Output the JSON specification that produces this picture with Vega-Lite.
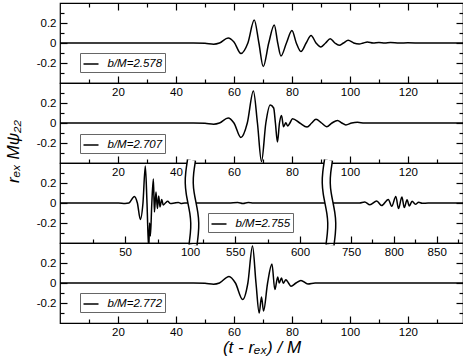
{
  "$schema": "https://vega.github.io/schema/vega-lite/v6.json",
  "background": "white",
  "padding": {"left": 3, "top": 1, "right": 0, "bottom": 0},
  "datasets": {
    "p1": [
      {"t":0,"v":0},{"t":20,"v":0},{"t":40,"v":0},{"t":46,"v":0},{"t":50,"v":-0.003},{"t":53,"v":-0.012},{"t":55,"v":0},{"t":58,"v":0.05},{"t":60,"v":0.01},{"t":62.4,"v":-0.105},{"t":64.8,"v":0},{"t":67,"v":0.23},{"t":68.6,"v":0},{"t":70.1,"v":-0.235},{"t":72,"v":0},{"t":73.9,"v":0.18},{"t":75.1,"v":0},{"t":76.2,"v":-0.13},{"t":78.1,"v":0},{"t":80,"v":0.125},{"t":81.5,"v":0},{"t":83.1,"v":-0.086},{"t":84.9,"v":0},{"t":86.6,"v":0.076},{"t":88.3,"v":0},{"t":90,"v":-0.04},{"t":91.6,"v":0},{"t":93.2,"v":0.043},{"t":94.8,"v":0},{"t":96.3,"v":-0.023},{"t":97.8,"v":0},{"t":99.4,"v":0.027},{"t":101.3,"v":0},{"t":103.2,"v":-0.01},{"t":104.6,"v":0},{"t":106,"v":0.01},{"t":108,"v":0},{"t":110,"v":0.006},{"t":112,"v":0},{"t":114,"v":0.004},{"t":117,"v":0},{"t":120,"v":0.002},{"t":125,"v":0},{"t":139,"v":0}
    ],
    "p2": [
      {"t":0,"v":0},{"t":20,"v":0},{"t":40,"v":0},{"t":46,"v":0},{"t":50,"v":-0.003},{"t":53,"v":-0.012},{"t":55,"v":0},{"t":58,"v":0.05},{"t":60,"v":0},{"t":62.4,"v":-0.145},{"t":64.6,"v":0},{"t":66.7,"v":0.32},{"t":68.1,"v":0},{"t":69.5,"v":-0.386},{"t":71,"v":0},{"t":72.5,"v":0.18},{"t":73.7,"v":0.15},{"t":74.3,"v":0},{"t":75,"v":-0.19},{"t":75.7,"v":0},{"t":76.4,"v":0.076},{"t":77.1,"v":-0.037},{"t":77.9,"v":0.003},{"t":78.5,"v":-0.03},{"t":79.3,"v":0},{"t":80.2,"v":0.043},{"t":82.7,"v":0},{"t":85.2,"v":-0.04},{"t":86.8,"v":0},{"t":88.3,"v":0.037},{"t":90.2,"v":0},{"t":92,"v":-0.037},{"t":93.8,"v":0},{"t":95.7,"v":0.026},{"t":97.2,"v":0},{"t":98.6,"v":-0.02},{"t":100.6,"v":0},{"t":102.6,"v":0.007},{"t":105,"v":0},{"t":139,"v":0}
    ],
    "p3": [
      {"s":"A","t":0,"v":0},{"s":"A","t":45,"v":0},{"s":"A","t":50,"v":-0.004},{"s":"A","t":53,"v":0},{"s":"A","t":57.2,"v":0.066},{"s":"A","t":59.5,"v":0},{"s":"A","t":61.8,"v":-0.165},{"s":"A","t":63.8,"v":0},{"s":"A","t":65.6,"v":0.37},{"s":"A","t":66.9,"v":0},{"s":"A","t":68.2,"v":-0.46},{"s":"A","t":68.9,"v":-0.2},{"s":"A","t":69.5,"v":-0.33},{"s":"A","t":70.6,"v":0},{"s":"A","t":71.8,"v":0.24},{"s":"A","t":72.6,"v":-0.09},{"s":"A","t":73.8,"v":0.11},{"s":"A","t":74.9,"v":-0.056},{"s":"A","t":75.9,"v":0.07},{"s":"A","t":76.9,"v":-0.04},{"s":"A","t":78.2,"v":0.035},{"s":"A","t":79.4,"v":-0.02},{"s":"A","t":81,"v":0},{"s":"A","t":82.8,"v":0.017},{"s":"A","t":85,"v":-0.005},{"s":"A","t":88,"v":0},{"s":"A","t":91,"v":0.005},{"s":"A","t":93,"v":-0.004},{"s":"A","t":96,"v":0},{"s":"A","t":101.5,"v":0},
      {"s":"B","t":516.7,"v":0},{"s":"B","t":545,"v":0},{"s":"B","t":552,"v":0.005},{"s":"B","t":556,"v":-0.005},{"s":"B","t":560,"v":0.005},{"s":"B","t":564,"v":0},{"s":"B","t":622.3,"v":0},
      {"s":"C","t":724.3,"v":0},{"s":"C","t":760,"v":0},{"s":"C","t":766,"v":0.01},{"s":"C","t":772,"v":-0.017},{"s":"C","t":780,"v":0.02},{"s":"C","t":785.7,"v":-0.026},{"s":"C","t":793.5,"v":0.036},{"s":"C","t":797.5,"v":-0.033},{"s":"C","t":802.3,"v":0.066},{"s":"C","t":805.4,"v":-0.056},{"s":"C","t":809.4,"v":0.06},{"s":"C","t":812.2,"v":-0.046},{"s":"C","t":815.4,"v":0.033},{"s":"C","t":818,"v":-0.03},{"s":"C","t":821.3,"v":0.017},{"s":"C","t":825.2,"v":-0.013},{"s":"C","t":829,"v":0.008},{"s":"C","t":833,"v":-0.003},{"s":"C","t":840,"v":0},{"s":"C","t":880.7,"v":0}
    ],
    "p4": [
      {"t":0,"v":0},{"t":20,"v":0},{"t":40,"v":0},{"t":46,"v":0},{"t":50,"v":-0.003},{"t":53,"v":-0.012},{"t":55,"v":0},{"t":58.3,"v":0.066},{"t":60.5,"v":0},{"t":63,"v":-0.165},{"t":64.8,"v":0},{"t":66.4,"v":0.37},{"t":67.6,"v":0},{"t":68.7,"v":-0.3},{"t":69.5,"v":-0.14},{"t":70.2,"v":-0.28},{"t":71.6,"v":0},{"t":73.1,"v":0.19},{"t":74.1,"v":-0.066},{"t":75.1,"v":0.06},{"t":75.6,"v":0},{"t":76.4,"v":0.05},{"t":77,"v":-0.003},{"t":77.9,"v":0.033},{"t":78.8,"v":0},{"t":79.7,"v":-0.033},{"t":81.4,"v":0},{"t":83.1,"v":0.026},{"t":85.5,"v":-0.01},{"t":88,"v":0},{"t":139,"v":0}
    ],
    "brk": [
      {"b":1,"i":0,"t":101.12,"v":0.43},{"b":1,"i":1,"t":99.58,"v":0.3},{"b":1,"i":2,"t":99.19,"v":0.2},{"b":1,"i":3,"t":99.96,"v":0.1},{"b":1,"i":4,"t":101.5,"v":0},{"b":1,"i":5,"t":518.24,"v":-0.1},{"b":1,"i":6,"t":519.01,"v":-0.2},{"b":1,"i":7,"t":518.63,"v":-0.3},{"b":1,"i":8,"t":517.47,"v":-0.42},
      {"b":2,"i":0,"t":621.91,"v":0.43},{"b":2,"i":1,"t":620.37,"v":0.3},{"b":2,"i":2,"t":619.99,"v":0.2},{"b":2,"i":3,"t":620.76,"v":0.1},{"b":2,"i":4,"t":622.3,"v":0},{"b":2,"i":5,"t":726.63,"v":-0.1},{"b":2,"i":6,"t":727.8,"v":-0.2},{"b":2,"i":7,"t":727.22,"v":-0.3},{"b":2,"i":8,"t":725.47,"v":-0.42}
    ]
  },
  "spacing": 0,
  "bounds": "flush",
  "vconcat": [
    {
      "width": 403, "height": 80,
      "data": {"name": "p1"},
      "layer": [
        {
          "mark": {"type": "line", "interpolate": "monotone", "strokeWidth": 1.5, "clip": true},
          "encoding": {
            "x": {"field": "t", "type": "quantitative", "scale": {"domain": [0, 139], "nice": false, "zero": false},
              "axis": {"orient": "bottom", "values": [10,20,30,40,50,60,70,80,90,100,110,120,130], "tickCount": 40, "labelExpr": "datum.value % 20 == 0 ? datum.label : ''", "tickSize": {"condition": {"test": "datum.value % 20 == 0", "value": -7}, "value": -4}, "labelPadding": 10, "labelOverlap": false, "title": null}},
            "y": {"field": "v", "type": "quantitative", "scale": {"domain": [-0.4, 0.4], "nice": false},
              "axis": {"orient": "left", "values": [-0.3,-0.2,-0.1,0,0.1,0.2,0.3], "tickCount": 40, "labelExpr": "datum.value == 0.2 ? '0.2' : datum.value == -0.2 ? '-0.2' : datum.value == 0 ? '0' : ''", "tickSize": {"condition": {"test": "datum.value == 0 || abs(datum.value) == 0.2", "value": -7}, "value": -4}, "labelPadding": 11, "labelOverlap": false, "title": null}},
            "color": {"datum": "b/M=2.578", "scale": {"range": ["black"]}, "legend": {"orient": "none", "legendX": 20, "legendY": 50}}
          }
        },
        {
          "mark": {"type": "line", "strokeOpacity": 0},
          "encoding": {
            "x": {"field": "t", "type": "quantitative", "axis": {"orient": "top", "values": [10,20,30,40,50,60,70,80,90,100,110,120,130], "tickCount": 40, "labels": false, "tickSize": {"condition": {"test": "datum.value % 20 == 0", "value": -7}, "value": -4}, "title": null}},
            "y": {"field": "v", "type": "quantitative", "axis": {"orient": "right", "values": [-0.3,-0.2,-0.1,0,0.1,0.2,0.3], "tickCount": 40, "labels": false, "tickSize": {"condition": {"test": "datum.value == 0 || abs(datum.value) == 0.2", "value": -7}, "value": -4}, "title": null}}
          }
        }
      ],
      "resolve": {"axis": {"x": "independent", "y": "independent"}}
    },
    {
      "width": 403, "height": 80,
      "data": {"name": "p2"},
      "layer": [
        {
          "mark": {"type": "line", "interpolate": "monotone", "strokeWidth": 1.5, "clip": true},
          "encoding": {
            "x": {"field": "t", "type": "quantitative", "scale": {"domain": [0, 139], "nice": false, "zero": false},
              "axis": {"orient": "bottom", "values": [10,20,30,40,50,60,70,80,90,100,110,120,130], "tickCount": 40, "labelExpr": "datum.value % 20 == 0 ? datum.label : ''", "tickSize": {"condition": {"test": "datum.value % 20 == 0", "value": -7}, "value": -4}, "labelPadding": 10, "labelOverlap": false, "title": null}},
            "y": {"field": "v", "type": "quantitative", "scale": {"domain": [-0.4, 0.4], "nice": false},
              "axis": {"orient": "left", "values": [-0.3,-0.2,-0.1,0,0.1,0.2,0.3], "tickCount": 40, "labelExpr": "datum.value == 0.2 ? '0.2' : datum.value == -0.2 ? '-0.2' : datum.value == 0 ? '0' : ''", "tickSize": {"condition": {"test": "datum.value == 0 || abs(datum.value) == 0.2", "value": -7}, "value": -4}, "labelPadding": 11, "labelOverlap": false,
                "title": "rₑₓ Mψ₂₂", "titleFontSize": 17, "titleX": -42, "titleY": 68, "titleAngle": -90, "titleAlign": "center", "titleBaseline": "alphabetic"}},
            "color": {"datum": "b/M=2.707", "scale": {"range": ["black"]}, "legend": {"orient": "none", "legendX": 20, "legendY": 51}}
          }
        },
        {
          "mark": {"type": "line", "strokeOpacity": 0},
          "encoding": {
            "x": {"field": "t", "type": "quantitative", "axis": null},
            "y": {"field": "v", "type": "quantitative", "axis": {"orient": "right", "values": [-0.3,-0.2,-0.1,0,0.1,0.2,0.3], "tickCount": 40, "labels": false, "tickSize": {"condition": {"test": "datum.value == 0 || abs(datum.value) == 0.2", "value": -7}, "value": -4}, "title": null}}
          }
        }
      ],
      "resolve": {"axis": {"x": "independent", "y": "independent"}}
    },
    {
      "width": 403, "height": 80,
      "layer": [
        {
          "data": {"name": "p3"},
          "mark": {"type": "line", "interpolate": "monotone", "strokeWidth": 1.5, "clip": true},
          "encoding": {
            "x": {"field": "t", "type": "quantitative", "scale": {"domain": [0, 101.5, 516.7, 622.3, 724.3, 880.7], "range": [0, 132, 132, 269, 269, 403], "nice": false, "zero": false},
              "axis": {"orient": "bottom", "values": [25,50,75,100,525,550,575,600,750,775,800,825,850,875], "tickCount": 40, "labelExpr": "(datum.value == 50 || datum.value == 100 || datum.value == 550 || datum.value == 600 || datum.value == 750 || datum.value == 800 || datum.value == 850) ? datum.label : ''", "tickSize": {"condition": {"test": "datum.value % 50 == 0", "value": -7}, "value": -4}, "labelPadding": 10, "labelOverlap": false, "title": null}},
            "y": {"field": "v", "type": "quantitative", "scale": {"domain": [-0.4, 0.4], "nice": false},
              "axis": {"orient": "left", "values": [-0.3,-0.2,-0.1,0,0.1,0.2,0.3], "tickCount": 40, "labelExpr": "datum.value == 0.2 ? '0.2' : datum.value == -0.2 ? '-0.2' : datum.value == 0 ? '0' : ''", "tickSize": {"condition": {"test": "datum.value == 0 || abs(datum.value) == 0.2", "value": -7}, "value": -4}, "labelPadding": 11, "labelOverlap": false, "title": null}},
            "detail": {"field": "s"},
            "color": {"datum": "b/M=2.755", "scale": {"range": ["black"]}, "legend": {"orient": "none", "legendX": 148, "legendY": 50}}
          }
        },
        {
          "data": {"name": "brk"},
          "mark": {"type": "line", "interpolate": "basis", "strokeWidth": 9.5, "color": "black", "clip": false},
          "encoding": {
            "x": {"field": "t", "type": "quantitative"},
            "y": {"field": "v", "type": "quantitative", "axis": null},
            "detail": {"field": "b"},
            "order": {"field": "i"}
          }
        },
        {
          "data": {"name": "brk"},
          "mark": {"type": "line", "interpolate": "basis", "strokeWidth": 6.5, "color": "white", "clip": false},
          "encoding": {
            "x": {"field": "t", "type": "quantitative"},
            "y": {"field": "v", "type": "quantitative", "axis": null},
            "detail": {"field": "b"},
            "order": {"field": "i"}
          }
        },
        {
          "data": {"name": "p3"},
          "mark": {"type": "line", "strokeOpacity": 0},
          "encoding": {
            "x": {"field": "t", "type": "quantitative"},
            "y": {"field": "v", "type": "quantitative", "axis": {"orient": "right", "values": [-0.3,-0.2,-0.1,0,0.1,0.2,0.3], "tickCount": 40, "labels": false, "tickSize": {"condition": {"test": "datum.value == 0 || abs(datum.value) == 0.2", "value": -7}, "value": -4}, "title": null}}
          }
        }
      ],
      "resolve": {"axis": {"y": "independent"}}
    },
    {
      "width": 403, "height": 80,
      "data": {"name": "p4"},
      "layer": [
        {
          "mark": {"type": "line", "interpolate": "monotone", "strokeWidth": 1.5, "clip": true},
          "encoding": {
            "x": {"field": "t", "type": "quantitative", "scale": {"domain": [0, 139], "nice": false, "zero": false},
              "axis": {"orient": "bottom", "values": [10,20,30,40,50,60,70,80,90,100,110,120,130], "tickCount": 40, "labelExpr": "datum.value % 20 == 0 ? datum.label : ''", "tickSize": {"condition": {"test": "datum.value % 20 == 0", "value": -7}, "value": -4}, "labelPadding": 10, "labelOverlap": false,
                "title": "(t - rₑₓ) / M", "titleFontSize": 17, "titlePadding": -1}},
            "y": {"field": "v", "type": "quantitative", "scale": {"domain": [-0.4, 0.4], "nice": false},
              "axis": {"orient": "left", "values": [-0.3,-0.2,-0.1,0,0.1,0.2,0.3], "tickCount": 40, "labelExpr": "datum.value == 0.2 ? '0.2' : datum.value == -0.2 ? '-0.2' : datum.value == 0 ? '0' : ''", "tickSize": {"condition": {"test": "datum.value == 0 || abs(datum.value) == 0.2", "value": -7}, "value": -4}, "labelPadding": 11, "labelOverlap": false, "title": null}},
            "color": {"datum": "b/M=2.772", "scale": {"range": ["black"]}, "legend": {"orient": "none", "legendX": 20, "legendY": 50}}
          }
        },
        {
          "mark": {"type": "line", "strokeOpacity": 0},
          "encoding": {
            "x": {"field": "t", "type": "quantitative", "axis": null},
            "y": {"field": "v", "type": "quantitative", "axis": {"orient": "right", "values": [-0.3,-0.2,-0.1,0,0.1,0.2,0.3], "tickCount": 40, "labels": false, "tickSize": {"condition": {"test": "datum.value == 0 || abs(datum.value) == 0.2", "value": -7}, "value": -4}, "title": null}}
          }
        }
      ],
      "resolve": {"axis": {"x": "independent", "y": "independent"}}
    }
  ],
  "resolve": {"scale": {"color": "independent", "x": "independent", "y": "independent"}, "legend": {"color": "independent"}},
  "config": {
    "view": {"stroke": "black", "strokeWidth": 1.2},
    "axis": {"domain": false, "grid": false, "labelFont": "Liberation Sans", "labelFontSize": 11.5, "labelColor": "black", "tickColor": "black", "tickWidth": 1.2, "tickOpacity": 1, "ticks": true, "titleFont": "Liberation Sans", "titleColor": "black", "titleFontWeight": "normal", "titleFontStyle": "italic", "labelFlush": false, "labelOverlap": false},
    "legend": {"title": null, "padding": 2.5, "strokeColor": "#666", "fillColor": "white", "labelFont": "Liberation Sans", "labelFontStyle": "italic", "labelFontSize": 11.5, "labelColor": "black", "symbolType": "stroke", "symbolSize": 225, "symbolStrokeWidth": 1.5, "symbolStrokeColor": "black", "labelOffset": 8, "cornerRadius": 0}
  }
}
